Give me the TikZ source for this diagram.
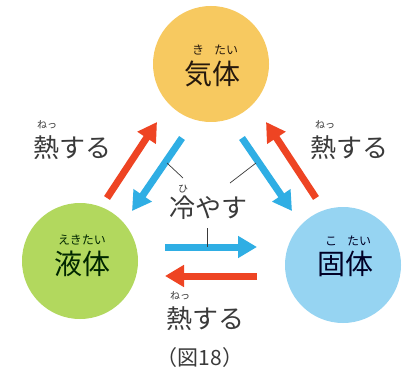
\documentclass[tikz,border=0pt]{standalone}
\usepackage{fontspec}
\setmainfont{Noto Sans CJK JP}
\usetikzlibrary{arrows.meta}
\definecolor{gasfill}{HTML}{F7C960}
\definecolor{liqfill}{HTML}{B2D85E}
\definecolor{solfill}{HTML}{96D4F2}
\definecolor{heatred}{HTML}{EE4423}
\definecolor{coolblue}{HTML}{2FAEE4}
\definecolor{txt}{HTML}{3A3A3A}
\tikzset{
  phase/.style={circle,minimum size=116pt,inner sep=0pt},
  big/.style={font=\fontsize{26}{28}\selectfont,text=txt,inner sep=0pt},
  inner/.style={font=\fontsize{28}{30}\selectfont,inner sep=0pt},
  rubysmall/.style={font=\fontsize{10}{11}\selectfont,text=txt,inner sep=0pt},
  rubyin/.style={font=\fontsize{12}{13}\selectfont,inner sep=0pt},
  heatarrow/.style={draw=heatred,line width=7pt,-{Triangle[width=21pt,length=19pt]}},
  coolarrow/.style={draw=coolblue,line width=7pt,-{Triangle[width=21pt,length=19pt]}},
  leader/.style={draw=txt,line width=0.7pt},
}
\begin{document}
\begin{tikzpicture}[x=1pt,y=-1pt]
\useasboundingbox[fill=white] (0,0) rectangle (411,374);
% circles
\node[phase,fill=gasfill] (gas) at (211,64) {};
\node[phase,fill=liqfill] (liq) at (80,261) {};
\node[phase,fill=solfill] (sol) at (343,265) {};
% circle texts
\node[inner,text=black!80!brown] (gast) at (212,74) {気体};
\node[rubyin,text=black!80!brown] (gasr1) at (198,50) {き};
\node[rubyin,text=black!80!brown] (gasr2) at (226,50) {たい};
\node[inner,text=black!75!green!60!black] (liqt) at (82,264) {液体};
\node[rubyin,text=black!75!green!60!black] (liqr) at (82,240) {えきたい};
\node[inner,text=black!70!blue!50!black] (solt) at (345,264) {固体};
\node[rubyin,text=black!70!blue!50!black] (solr1) at (331,241) {こ};
\node[rubyin,text=black!70!blue!50!black] (solr2) at (359,241) {たい};
% arrow end points
\coordinate (hl1) at (107,198); \coordinate (hl2) at (157,122);
\coordinate (cl1) at (182,138); \coordinate (cl2) at (132,211);
\coordinate (cr1) at (242,138); \coordinate (cr2) at (292,211);
\coordinate (hr1) at (316,198); \coordinate (hr2) at (266,122);
\coordinate (ch1) at (165,247); \coordinate (ch2) at (257,247);
\coordinate (hh1) at (257,276); \coordinate (hh2) at (165,276);
\draw[heatarrow] (hl1) -- (hl2);
\draw[heatarrow] (hr1) -- (hr2);
\draw[heatarrow] (hh1) -- (hh2);
\draw[coolarrow] (cl1) -- (cl2);
\draw[coolarrow] (cr1) -- (cr2);
\draw[coolarrow] (ch1) -- (ch2);
% labels
\node[big] (heatL) at (72,148) {熱する};
\node[rubysmall] (heatLr) at (47,125) {ねっ};
\node[big] (heatR) at (349,148) {熱する};
\node[rubysmall] (heatRr) at (325,125) {ねっ};
\node[big] (cool) at (208,208) {冷やす};
\node[rubysmall] (coolr) at (183,189) {ひ};
\node[big] (heatB) at (205,319) {熱する};
\node[rubysmall] (heatBr) at (180,296) {ねっ};
\node[font=\fontsize{21}{23}\selectfont,text=txt,inner sep=0pt] (fig) at (200,358) {（図18）};
% leader lines
\coordinate (l1a) at (167,163); \coordinate (l1b) at (183,178);
\coordinate (l2a) at (256,163); \coordinate (l2b) at (230,183);
\coordinate (l3a) at (207,228); \coordinate (l3b) at (207,247);
\draw[leader] (l1a) -- (l1b);
\draw[leader] (l2a) -- (l2b);
\draw[leader] (l3a) -- (l3b);
\end{tikzpicture}
\end{document}
